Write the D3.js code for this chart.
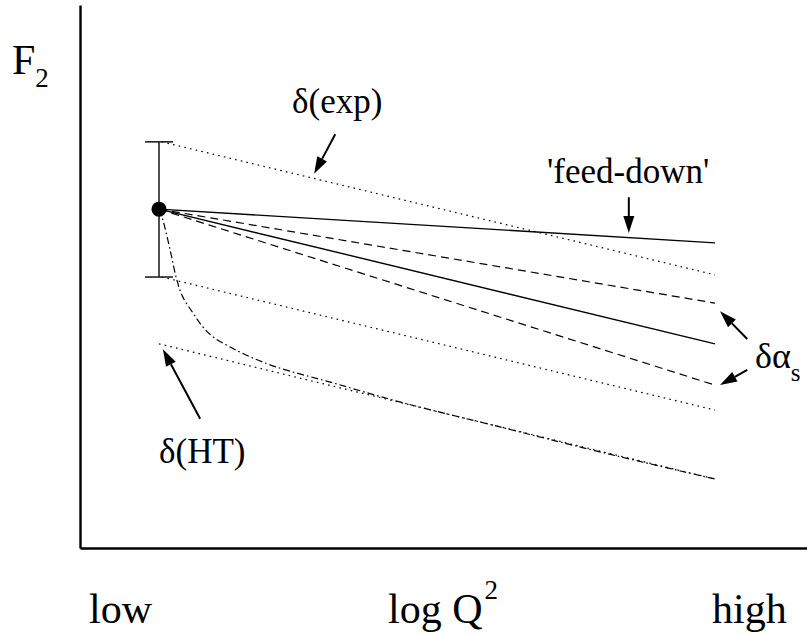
<!DOCTYPE html>
<html>
<head>
<meta charset="utf-8">
<script src="https://cdn.jsdelivr.net/npm/d3@7"></script>
<style>
  html, body { margin: 0; padding: 0; background: #fff; }
  svg { display: block; }
  svg text { fill: #000; }
</style>
</head>
<body>
<svg id="chart" width="807" height="635"></svg>
<script>
// ---- data (arbitrary units: x = log Q^2 from low(0) to high(100), y = F2) ----
const xLabels = ["low", "log Q", "high"];
const dataPoint = [{ x: 0, y: 62.4 }];
const errorBar = [{ x: 0, lo: 49.9, hi: 74.8 }];

const feedDownX = [0, 100];
const feedDownY = [62.4, 56.2];
const centralX = [0, 100];
const centralY = [62.4, 37.6];
const alphaUpX = [0, 100];
const alphaUpY = [62.4, 45.1];
const alphaDownX = [0, 100];
const alphaDownY = [62.4, 30.0];
const expUpX = [0.5, 100];
const expUpY = [74.8, 50.3];
const expDownX = [0.5, 100];
const expDownY = [49.9, 25.4];
const htLineX = [0, 100];
const htLineY = [37.6, 12.7];
const htCurveX = [0, 0.7, 2.0, 3.2, 4.3, 6.1, 7.9, 9.7, 12.8, 16.4, 21.2, 31.3, 43.3, 61.3, 79.3, 100];
const htCurveY = [62.4, 60.4, 54.9, 49.4, 46.2, 43.3, 40.7, 38.9, 37.0, 35.2, 33.3, 30.4, 26.9, 22.3, 17.7, 12.7];

// ---- layout ----
const FONT = "Liberation Serif, LiberationSerif, Tinos, Noto Serif, DejaVu Serif, FreeSerif, Nimbus Roman, Nimbus Roman No9 L, Times New Roman, Times, serif";
const svg = d3.select("#chart");
const x = d3.scaleLinear().domain([0, 100]).range([159, 715]);
const y = d3.scaleLinear().domain([0, 100]).range([548, 5]);
const axisX0 = 80, axisY0 = 548;

const zip = (xs, ys) => xs.map((v, i) => ({ x: v, y: ys[i] }));
const line = d3.line().x(d => x(d.x)).y(d => y(d.y));
const curve = d3.line().x(d => x(d.x)).y(d => y(d.y)).curve(d3.curveCatmullRom.alpha(0.5));

// axes (no ticks)
const yAxis = d3.axisLeft(y).tickValues([]).tickSize(0).tickSizeOuter(0);
const xAxisScale = d3.scaleLinear().domain([0, 1]).range([axisX0, 807]);
svg.append("g").attr("transform", `translate(0,${axisY0})`)
  .call(d3.axisBottom(xAxisScale).tickValues([]).tickSize(0).tickSizeOuter(0))
  .select(".domain").attr("stroke", "#000").attr("stroke-width", 2.4);
svg.append("g").attr("transform", `translate(${axisX0},0)`)
  .call(yAxis)
  .select(".domain").attr("stroke", "#000").attr("stroke-width", 2.4);

// lines
const series = [
  { d: zip(expUpX, expUpY), dash: "1.6,4.2", w: 1.2 },
  { d: zip(expDownX, expDownY), dash: "1.6,4.2", w: 1.2 },
  { d: zip(htLineX, htLineY), dash: "1.6,4.2", w: 1.2 },
  { d: zip(feedDownX, feedDownY), dash: null, w: 1.4 },
  { d: zip(centralX, centralY), dash: null, w: 1.4 },
  { d: zip(alphaUpX, alphaUpY), dash: "8,5", w: 1.2 },
  { d: zip(alphaDownX, alphaDownY), dash: "8,5", w: 1.2 }
];
svg.append("g").selectAll("path").data(series).join("path")
  .attr("d", s => line(s.d))
  .attr("fill", "none").attr("stroke", "#000")
  .attr("stroke-width", s => s.w)
  .attr("stroke-dasharray", s => s.dash);

svg.append("path")
  .attr("d", curve(zip(htCurveX, htCurveY)))
  .attr("fill", "none").attr("stroke", "#000").attr("stroke-width", 1.2)
  .attr("stroke-dasharray", "7,3,1.6,3");

// error bar
const eb = svg.append("g").attr("stroke", "#222").attr("stroke-width", 1.6);
errorBar.forEach(e => {
  eb.append("line").attr("x1", x(e.x)).attr("x2", x(e.x)).attr("y1", y(e.lo)).attr("y2", y(e.hi));
  [e.lo, e.hi].forEach(v => eb.append("line")
    .attr("x1", x(e.x) - 14).attr("x2", x(e.x) + 14).attr("y1", y(v)).attr("y2", y(v)));
});

// data point
svg.selectAll("circle.pt").data(dataPoint).join("circle")
  .attr("cx", d => x(d.x)).attr("cy", d => y(d.y)).attr("r", 7.5).attr("fill", "#000");

// arrows (annotation, data units)
const arrows = [
  { x1: 31.7, y1: 76.2, x2: 27.9, y2: 68.9 },
  { x1: 84.5, y1: 64.6, x2: 84.5, y2: 58.0 },
  { x1: 105.8, y1: 38.5, x2: 100.9, y2: 43.6 },
  { x1: 105.8, y1: 32.8, x2: 100.9, y2: 30.0 },
  { x1: 7.4, y1: 23.8, x2: 0.7, y2: 36.6 }
];
const ag = svg.append("g");
arrows.forEach(a => {
  const X1 = x(a.x1), Y1 = y(a.y1), X2 = x(a.x2), Y2 = y(a.y2);
  const ang = Math.atan2(Y2 - Y1, X2 - X1);
  const L = 17, W = 5.5;
  const bx = X2 - L * Math.cos(ang), by = Y2 - L * Math.sin(ang);
  ag.append("line").attr("x1", X1).attr("y1", Y1).attr("x2", bx).attr("y2", by)
    .attr("stroke", "#000").attr("stroke-width", 2);
  const px = -Math.sin(ang) * W, py = Math.cos(ang) * W;
  ag.append("path")
    .attr("d", `M${X2},${Y2}L${bx + px},${by + py}L${bx - px},${by - py}Z`)
    .attr("fill", "#000");
});

// labels
function label(xp, yp, size, parts) {
  const t = svg.append("text").attr("x", xp).attr("y", yp)
    .attr("font-size", size).attr("font-family", FONT);
  parts.forEach(p => {
    const ts = t.append("tspan").text(p.t);
    if (p.size) ts.attr("font-size", p.size);
    if (p.dy) ts.attr("dy", p.dy);
    if (p.dx) ts.attr("dx", p.dx);
  });
  return t;
}
label(12, 74, 42, [{ t: "F" }, { t: "2", size: 27, dy: 13 }]);
label(292, 113, 35, [{ t: "δ(exp)" }]);
label(547, 183, 35, [{ t: "'feed-down'" }]);
label(755, 368, 36, [{ t: "δα" }, { t: "s", size: 25, dy: 13 }]);
label(159, 463, 35, [{ t: "δ(HT)" }]);
label(89, 623, 42, [{ t: xLabels[0] }]);
label(388, 623, 42, [{ t: xLabels[1] }, { t: "2", size: 27, dy: -24, dx: 2 }]);
label(712, 623, 42, [{ t: xLabels[2] }]);
</script>
</body>
</html>
